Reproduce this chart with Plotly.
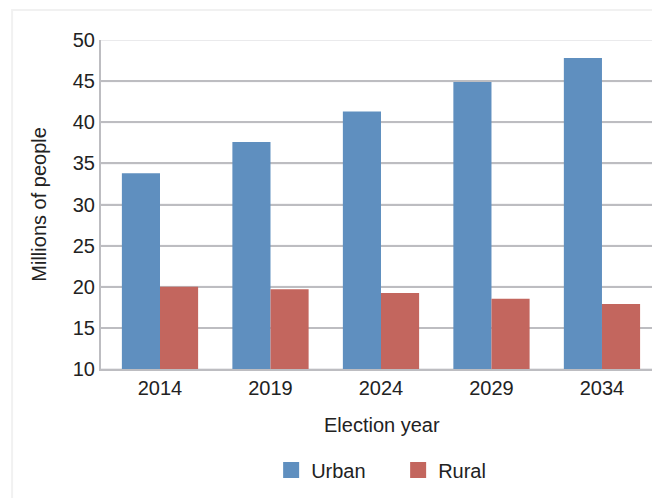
import plotly.graph_objects as go

years = ["2014", "2019", "2024", "2029", "2034"]
urban = [33.8, 37.6, 41.3, 44.9, 47.8]
rural = [20.0, 19.7, 19.25, 18.55, 17.9]
y_ticks = [10, 15, 20, 25, 30, 35, 40, 45, 50]

font_family = "Liberation Sans, Arial, Helvetica, sans-serif"
text_color = "#222222"
grid_color = "#bdbdc1"
urban_color = "#5f8fbf"
rural_color = "#c3665e"

fig = go.Figure()

fig.add_trace(
    go.Bar(x=years, y=urban, name="Urban", showlegend=False,
           marker={"color": urban_color, "line": {"width": 0}})
)
fig.add_trace(
    go.Bar(x=years, y=rural, name="Rural", showlegend=False,
           marker={"color": rural_color, "line": {"width": 0}})
)

# legend-only entries so the swatches can be larger squares
for name, color in [("Urban", urban_color), ("Rural", rural_color)]:
    fig.add_trace(
        go.Scatter(
            x=[None], y=[None], mode="markers", name=name,
            marker={"symbol": "square", "size": 22, "color": color},
        )
    )

# horizontal gridlines at each y tick, kept under the bars
grid_shapes = [
    {
        "type": "line",
        "xref": "paper",
        "yref": "y",
        "x0": 0,
        "x1": 1,
        "y0": v,
        "y1": v,
        "line": {"color": grid_color, "width": 2},
        "layer": "between",
    }
    for v in y_ticks
]

border = {
    "type": "rect",
    "xref": "paper",
    "yref": "paper",
    "x0": -0.16,
    "x1": 1.2,
    "y0": -0.45,
    "y1": 1.091,
    "line": {"color": "#d4d4d4", "width": 2},
    "fillcolor": "rgba(0,0,0,0)",
    "layer": "above",
}

# the page body has an 8px margin, so the figure is laid out 8px smaller
fig.update_layout(
    template="simple_white",
    width=652,
    height=490,
    margin={"l": 93, "r": 3, "t": 32, "b": 129},
    paper_bgcolor="white",
    plot_bgcolor="rgba(0,0,0,0)",
    barmode="group",
    bargap=0.31,
    bargroupgap=0,
    font={"family": font_family, "size": 20, "color": text_color},
    legend={
        "orientation": "h",
        "x": 0.306,
        "xanchor": "left",
        "y": -0.307,
        "yanchor": "middle",
        "font": {"size": 20},
        "entrywidth": 82,
        "itemsizing": "trace",
    },
    shapes=grid_shapes + [border],
    annotations=[
        {
            "text": "Millions of people",
            "xref": "paper",
            "yref": "paper",
            "x": -0.113,
            "y": 0.5,
            "textangle": -90,
            "showarrow": False,
            "xanchor": "center",
            "yanchor": "middle",
            "font": {"size": 20},
        },
        {
            "text": "Election year",
            "xref": "paper",
            "yref": "paper",
            "x": 0.505,
            "y": -0.170,
            "showarrow": False,
            "xanchor": "center",
            "yanchor": "middle",
            "font": {"size": 20},
        },
    ],
)

fig.update_yaxes(
    range=[10, 50],
    tickmode="array",
    tickvals=y_ticks,
    showgrid=True,
    gridcolor=grid_color,
    gridwidth=2,
    showline=True,
    linecolor=grid_color,
    linewidth=2,
    ticks="outside",
    ticklen=0,
    tickcolor="rgba(0,0,0,0)",
    automargin=False,
    zeroline=False,
)
fig.update_xaxes(
    range=[-0.534, 4.498],
    showgrid=False,
    showline=True,
    linecolor=grid_color,
    linewidth=2,
    ticks="",
    automargin=False,
)

fig.write_html("out.html")
